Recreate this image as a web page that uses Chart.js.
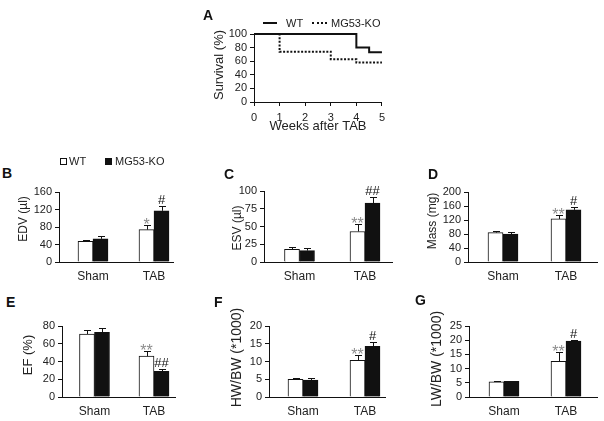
<!DOCTYPE html>
<html lang="en">
<head>
<meta charset="UTF-8">
<title>Survival and echo after TAB: WT vs MG53-KO</title>
<style>
  body { margin: 0; background: #fff; font-family: "Liberation Sans", Arial, sans-serif; }
  #fig { position: relative; width: 604px; height: 421px; overflow: hidden; }
  canvas { position: absolute; }
  .letter { position: absolute; font-weight: bold; font-size: 14px; line-height: 14px; color: #111; }
  .leg { position: absolute; font-size: 11px; line-height: 11px; color: #222; white-space: nowrap; }
  .sw { position: absolute; box-sizing: border-box; }
</style>
</head>
<body>
<div id="fig">
  <canvas id="chartA"></canvas>
  <canvas id="chartB"></canvas>
  <canvas id="chartC"></canvas>
  <canvas id="chartD"></canvas>
  <canvas id="chartE"></canvas>
  <canvas id="chartF"></canvas>
  <canvas id="chartG"></canvas>

  <div class="letter" style="left:203px;top:8px">A</div>
  <div class="letter" style="left:2px;top:166px">B</div>
  <div class="letter" style="left:224px;top:167px">C</div>
  <div class="letter" style="left:428px;top:167px">D</div>
  <div class="letter" style="left:6px;top:295px">E</div>
  <div class="letter" style="left:214px;top:295px">F</div>
  <div class="letter" style="left:415px;top:293px">G</div>

  <!-- legend of A -->
  <div class="sw" style="left:263px;top:22px;width:14px;height:2px;background:#111"></div>
  <div class="leg" style="left:286px;top:18px">WT</div>
  <div class="sw" style="left:312px;top:22px;width:15px;height:2px;border-top:2px dotted #111"></div>
  <div class="leg" style="left:331px;top:18px">MG53-KO</div>

  <!-- legend of B -->
  <div class="sw" style="left:60px;top:158px;width:7px;height:7px;border:1px solid #111;background:#fff"></div>
  <div class="leg" style="left:69px;top:156px">WT</div>
  <div class="sw" style="left:105px;top:158px;width:7px;height:7px;background:#111"></div>
  <div class="leg" style="left:115px;top:156px">MG53-KO</div>
</div>

<script src="https://cdn.jsdelivr.net/npm/chart.js"></script>
<script>
// ---- data ----
const categories = ['Sham', 'TAB'];

// A: survival
const wtWeeks = [0, 4, 4.5, 5];
const wtSurvival = [100, 80, 73, 73];
const koWeeks = [0, 1, 3, 4, 5];
const koSurvival = [100, 74, 63, 58, 58];

// B: EDV (µl)
const edvWT = [47, 74];
const edvWTErr = [3, 10];
const edvKO = [53, 117];
const edvKOErr = [6, 11];
const edvWTSig = ['', '*'];
const edvKOSig = ['', '#'];

// C: ESV (µl)
const esvWT = [18, 43];
const esvWTErr = [2.5, 10];
const esvKO = [16, 83];
const esvKOErr = [4, 9];
const esvWTSig = ['', '**'];
const esvKOSig = ['', '##'];

// D: Mass (mg)
const massWT = [84, 123];
const massWTErr = [4, 10];
const massKO = [80, 149];
const massKOErr = [6, 9];
const massWTSig = ['', '**'];
const massKOSig = ['', '#'];

// E: EF (%)
const efWT = [71, 46];
const efWTErr = [4, 5.5];
const efKO = [73, 29];
const efKOErr = [4.5, 2];
const efWTSig = ['', '**'];
const efKOSig = ['', '##'];

// F: HW/BW
const hwWT = [5.0, 10.3];
const hwWTErr = [0.4, 1.6];
const hwKO = [4.8, 14.3];
const hwKOErr = [0.5, 1.3];
const hwWTSig = ['', '**'];
const hwKOSig = ['', '#'];

// G: LW/BW
const lwWT = [5.3, 12.6];
const lwWTErr = [0.3, 3.2];
const lwKO = [5.5, 19.7];
const lwKOErr = [0.3, 0.5];
const lwWTSig = ['', '**'];
const lwKOSig = ['', '#'];

Chart.defaults.font.family = '"Liberation Sans", Arial, sans-serif';
Chart.defaults.color = '#222';

const ink = '#111';

// one-sided error bars + significance marks
const errorBars = {
  id: 'errorBars',
  afterDatasetsDraw(chart) {
    const ctx = chart.ctx;
    const y = chart.scales.y;
    chart.data.datasets.forEach((ds, di) => {
      if (!ds.errors) return;
      chart.getDatasetMeta(di).data.forEach((bar, i) => {
        const v = ds.data[i].y;
        const top = Math.round(y.getPixelForValue(v + ds.errors[i])) + 0.5;
        const x = Math.round(bar.x) + 0.5;
        ctx.save();
        ctx.strokeStyle = ink;
        ctx.lineWidth = 1;
        ctx.beginPath();
        ctx.moveTo(x, bar.y);
        ctx.lineTo(x, top);
        ctx.moveTo(x - 3.5, top);
        ctx.lineTo(x + 3.5, top);
        ctx.stroke();
        const mark = ds.marks[i];
        if (mark) {
          const star = mark[0] === '*';
          ctx.fillStyle = star ? '#8c8c8c' : ink;
          ctx.font = (star ? 16 : 13) + 'px "Liberation Sans", Arial, sans-serif';
          ctx.textAlign = 'center';
          ctx.textBaseline = 'alphabetic';
          ctx.fillText(mark, bar.x, star ? top + 4 : top - 3);
        }
        ctx.restore();
      });
    });
  }
};

// rotated y-axis title, placed where the figure has it
const yTitle = {
  id: 'yTitle',
  afterDraw(chart, args, o) {
    const ctx = chart.ctx;
    ctx.save();
    ctx.translate(o.x, o.y);
    ctx.rotate(-Math.PI / 2);
    ctx.font = o.size + 'px "Liberation Sans", Arial, sans-serif';
    ctx.fillStyle = '#222';
    ctx.textAlign = 'center';
    ctx.textBaseline = 'middle';
    ctx.fillText(o.text, 0, 0);
    ctx.restore();
  }
};

function place(canvas, left, top, w, h) {
  canvas.width = w;
  canvas.height = h;
  canvas.style.left = left + 'px';
  canvas.style.top = top + 'px';
}

// ---- A: survival curve ----
(function () {
  const canvas = document.getElementById('chartA');
  const left = 205, axisX = 254, right = 384, top = 34, bottom = 102, xH = 32;
  place(canvas, left, 0, right + 6 - left, bottom + xH);
  new Chart(canvas, {
    type: 'line',
    data: {
      datasets: [
        { label: 'WT', data: wtWeeks.map((w, i) => ({ x: w, y: wtSurvival[i] })),
          borderColor: ink, borderWidth: 2, stepped: true, pointRadius: 0, fill: false, clip: false },
        { label: 'MG53-KO', data: koWeeks.map((w, i) => ({ x: w, y: koSurvival[i] })),
          borderColor: ink, borderWidth: 2, borderDash: [2, 1.6], stepped: true, pointRadius: 0, fill: false, clip: false }
      ]
    },
    options: {
      responsive: false,
      animation: false,
      layout: { padding: { top: top, right: 6, bottom: 0, left: 0 } },
      plugins: {
        legend: { display: false }, tooltip: { enabled: false },
        yTitle: { text: 'Survival (%)', size: 13, x: 219 - left, y: 65 }
      },
      scales: {
        x: {
          type: 'linear', min: 0, max: 5,
          ticks: { stepSize: 1, padding: 5, font: { size: 11 }, autoSkip: false },
          grid: { drawOnChartArea: false, drawTicks: true, tickLength: 4, color: ink },
          border: { display: true, color: ink, width: 1 },
          title: { display: true, text: 'Weeks after TAB', font: { size: 13 }, padding: { top: 0, bottom: 0 } },
          afterFit: s => { s.height = xH; }
        },
        y: {
          min: 0, max: 100,
          ticks: { stepSize: 20, padding: 3, font: { size: 11 }, autoSkip: false },
          grid: { drawOnChartArea: false, drawTicks: true, tickLength: 4, color: ink },
          border: { display: true, color: ink, width: 1 },
          afterFit: s => { s.width = axisX - left; }
        }
      }
    },
    plugins: [yTitle]
  });
})();

// ---- B-G: bar panels ----
const panels = [
  { id: 'chartB', title: 'EDV (µl)', titleSize: 12, max: 160, step: 40,
    wt: edvWT, wtErr: edvWTErr, wtSig: edvWTSig, ko: edvKO, koErr: edvKOErr, koSig: edvKOSig,
    axisX: 59, right: 173, c0: 93, c1: 154, top: 192, bottom: 262, titleX: 24, titleY: 219 },
  { id: 'chartC', title: 'ESV (µl)', titleSize: 12, max: 100, step: 25,
    wt: esvWT, wtErr: esvWTErr, wtSig: esvWTSig, ko: esvKO, koErr: esvKOErr, koSig: esvKOSig,
    axisX: 264, right: 392, c0: 299.5, c1: 365, top: 191, bottom: 262, titleX: 238, titleY: 228 },
  { id: 'chartD', title: 'Mass (mg)', titleSize: 12, max: 200, step: 40,
    wt: massWT, wtErr: massWTErr, wtSig: massWTSig, ko: massKO, koErr: massKOErr, koSig: massKOSig,
    axisX: 468, right: 597, c0: 503, c1: 566, top: 192, bottom: 262, titleX: 432.5, titleY: 221 },
  { id: 'chartE', title: 'EF (%)', titleSize: 13, max: 80, step: 20,
    wt: efWT, wtErr: efWTErr, wtSig: efWTSig, ko: efKO, koErr: efKOErr, koSig: efKOSig,
    axisX: 62, right: 175, c0: 94.5, c1: 154, top: 326, bottom: 397, titleX: 28, titleY: 355 },
  { id: 'chartF', title: 'HW/BW (*1000)', titleSize: 14, max: 20, step: 5,
    wt: hwWT, wtErr: hwWTErr, wtSig: hwWTSig, ko: hwKO, koErr: hwKOErr, koSig: hwKOSig,
    axisX: 269, right: 385, c0: 303, c1: 365, top: 326, bottom: 397, titleX: 237.5, titleY: 357.5 },
  { id: 'chartG', title: 'LW/BW (*1000)', titleSize: 14, max: 25, step: 5,
    wt: lwWT, wtErr: lwWTErr, wtSig: lwWTSig, ko: lwKO, koErr: lwKOErr, koSig: lwKOSig,
    axisX: 469, right: 597, c0: 504, c1: 566, top: 326, bottom: 397, titleX: 437.5, titleY: 359 }
];

panels.forEach(p => {
  const canvas = document.getElementById(p.id);
  const padTop = 22, xH = 24;
  const left = Math.round(p.titleX - p.titleSize * 0.6 - 4);
  const canvasTop = p.top - padTop;
  place(canvas, left, canvasTop, p.right + 3 - left, p.bottom - p.top + padTop + xH);
  const span = p.c1 - p.c0;

  new Chart(canvas, {
    type: 'bar',
    data: {
      datasets: [
        { label: 'WT', data: p.wt.map((v, i) => ({ x: i, y: v })), errors: p.wtErr, marks: p.wtSig,
          backgroundColor: '#fff', borderColor: ink, borderWidth: 1 },
        { label: 'MG53-KO', data: p.ko.map((v, i) => ({ x: i, y: v })), errors: p.koErr, marks: p.koSig,
          backgroundColor: ink, borderColor: ink, borderWidth: 1 }
      ]
    },
    options: {
      responsive: false,
      animation: false,
      datasets: { bar: { barThickness: 15 } },
      layout: { padding: { top: padTop, right: 3, bottom: 0, left: 0 } },
      plugins: {
        legend: { display: false }, tooltip: { enabled: false },
        yTitle: { text: p.title, size: p.titleSize, x: p.titleX - left, y: p.titleY - canvasTop }
      },
      scales: {
        x: {
          type: 'linear',
          offset: false,
          min: -(p.c0 - p.axisX) / span,
          max: 1 + (p.right - p.c1) / span,
          afterBuildTicks: s => { s.ticks = categories.map((c, i) => ({ value: i })); },
          ticks: { callback: v => categories[v], padding: 7, font: { size: 12 }, autoSkip: false, maxRotation: 0 },
          grid: { display: false, drawTicks: false, offset: false },
          border: { display: true, color: ink, width: 1 },
          afterFit: s => { s.height = xH; }
        },
        y: {
          min: 0, max: p.max,
          ticks: { stepSize: p.step, padding: 3, font: { size: 11 }, autoSkip: false },
          grid: { drawOnChartArea: false, drawTicks: true, tickLength: 4, color: ink },
          border: { display: true, color: ink, width: 1 },
          afterFit: s => { s.width = p.axisX - left; }
        }
      }
    },
    plugins: [errorBars, yTitle]
  });
});
</script>
</body>
</html>
